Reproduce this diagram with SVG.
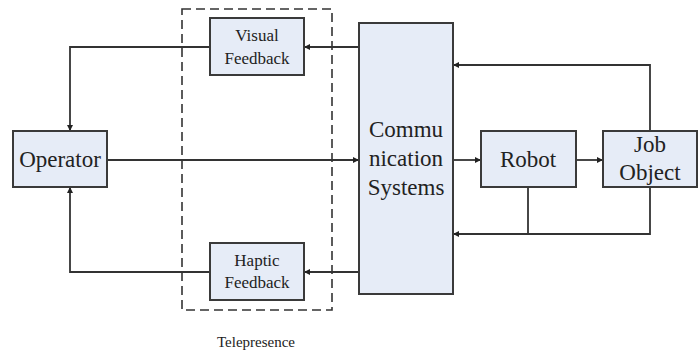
<svg xmlns="http://www.w3.org/2000/svg" width="700" height="355" viewBox="0 0 700 355" font-family="'Liberation Serif', 'Times New Roman', 'DejaVu Serif', serif">
  <style>
    .box { fill: #e6ecf7; stroke: #3a3a3a; stroke-width: 2; }
    .wire { fill: none; stroke: #333; stroke-width: 1.8; }
    text { font-family: 'Liberation Serif', 'Times New Roman', 'DejaVu Serif', serif; fill: #222; text-anchor: middle; }
    .big { font-size: 23px; }
    .small { font-size: 17px; }
  </style>
  <defs>
    <marker id="arrow" viewBox="0 0 6 6" refX="6" refY="3" markerWidth="6" markerHeight="6" markerUnits="userSpaceOnUse" orient="auto">
      <path d="M0,0 L6,3 L0,6 Z" fill="#222"/>
    </marker>
  </defs>

  <!-- Telepresence boundary -->
  <g id="telepresence">
    <rect x="182" y="9" width="150" height="301" fill="none" stroke="#333" stroke-width="1.6" stroke-dasharray="9,5"/>
    <text x="256" y="347" font-size="15">Telepresence</text>
  </g>

  <!-- Connectors -->
  <g id="connectors">
    <path class="wire" d="M359,47 H304" marker-end="url(#arrow)"/>
    <path class="wire" d="M210,47 H70 V131" marker-end="url(#arrow)"/>
    <path class="wire" d="M107,160 H359" marker-end="url(#arrow)"/>
    <path class="wire" d="M359,272 H304" marker-end="url(#arrow)"/>
    <path class="wire" d="M210,272 H70 V187" marker-end="url(#arrow)"/>
    <path class="wire" d="M453,160 H481" marker-end="url(#arrow)"/>
    <path class="wire" d="M576,160 H603" marker-end="url(#arrow)"/>
    <path class="wire" d="M650,131 V65 H453" marker-end="url(#arrow)"/>
    <path class="wire" d="M650,187 V234 H453" marker-end="url(#arrow)"/>
    <path class="wire" d="M528,187 V234"/>
  </g>

  <g id="operator">
    <rect class="box" x="13" y="131" width="94" height="56"/>
    <text class="big" x="60" y="167">Operator</text>
  </g>

  <g id="visual-feedback">
    <rect class="box" x="210" y="18" width="94" height="57"/>
    <text class="small" x="257" y="41">Visual</text>
    <text class="small" x="257" y="64">Feedback</text>
  </g>

  <g id="haptic-feedback">
    <rect class="box" x="210" y="243" width="94" height="57"/>
    <text class="small" x="257" y="266">Haptic</text>
    <text class="small" x="257" y="288">Feedback</text>
  </g>

  <g id="communication-systems">
    <rect class="box" x="359" y="23" width="94" height="271"/>
    <text class="big" x="406" y="137">Commu</text>
    <text class="big" x="406" y="166">nication</text>
    <text class="big" x="406" y="195">Systems</text>
  </g>

  <g id="robot">
    <rect class="box" x="481" y="131" width="95" height="56"/>
    <text class="big" x="528" y="167">Robot</text>
  </g>

  <g id="job-object">
    <rect class="box" x="603" y="131" width="94" height="56"/>
    <text class="big" x="650" y="152">Job</text>
    <text class="big" x="650" y="180">Object</text>
  </g>
</svg>
